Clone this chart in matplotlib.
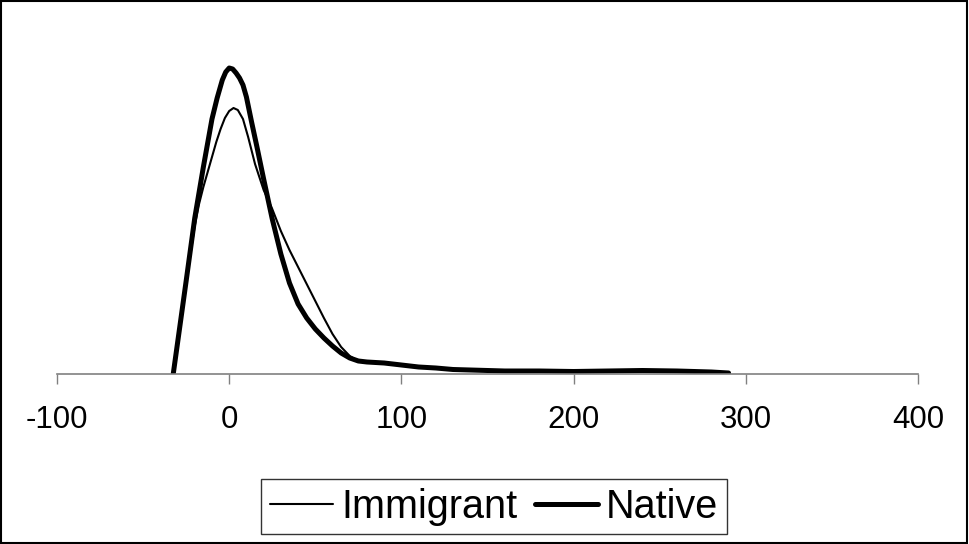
import matplotlib
matplotlib.use("Agg")
import matplotlib.pyplot as plt
from matplotlib.patches import Rectangle

# ---- data ----
native_x = [-32.5, -30, -25, -20, -15, -10, -7, -4, -2, 0, 2, 4, 6, 8, 10, 13, 16, 20, 25, 30,
            35, 40, 45, 50, 55, 60, 65, 70, 75, 80, 90, 100, 110, 120, 130, 140, 160, 180,
            200, 220, 240, 260, 280, 290]
native_y = [0, 31, 93, 156, 207, 255, 276, 294, 302, 306, 305, 301, 296, 289, 277, 252, 228, 195,
            155, 120, 91, 70, 56, 45, 36, 28, 21, 16, 13, 12, 11, 9, 7, 6, 4.5, 4, 3, 3,
            2.5, 3, 3.5, 3, 2, 1]

immigrant_x = [-32.5, -30, -25, -20, -17.5, -15, -12.5, -10, -7.5, -5, -2.5, 0, 2.5, 5, 8, 11,
               15, 20, 25, 30, 35, 40, 45, 50, 55, 60, 65, 70, 75, 80, 90, 100, 110, 120, 130,
               140, 160, 180, 200, 220, 240, 260, 280, 290]
immigrant_y = [0, 31, 92, 148, 170, 187, 202, 217, 232, 245, 256, 263, 266, 264, 255, 237,
               210, 184, 165, 143, 124, 107, 90, 73, 56, 40, 27, 18, 13, 11.5, 10.5, 8.5, 7,
               5.5, 4.5, 4, 3, 3, 2.5, 3, 3.5, 3, 2, 1]

xticks = [-100, 0, 100, 200, 300, 400]
series_labels = ["Immigrant", "Native"]

plt.rcParams['font.family'] = ['Liberation Sans', 'DejaVu Sans']

fig = plt.figure(figsize=(9.69, 5.44), dpi=100)
ax = fig.add_axes([57 / 969, 170 / 544, 861 / 969, 354 / 544])

ax.plot(immigrant_x, immigrant_y, color='black', lw=1.5, label=series_labels[0],
        solid_joinstyle='round', solid_capstyle='round')
ax.plot(native_x, native_y, color='black', lw=3.6, label=series_labels[1],
        solid_joinstyle='round', solid_capstyle='round')

ax.set_xlim(-100, 400)
ax.set_ylim(0, 354)
ax.set_xticks(xticks)
ax.set_xticklabels([str(t) for t in xticks])
ax.set_yticks([])
for s in ['left', 'top', 'right']:
    ax.spines[s].set_visible(False)
ax.spines['bottom'].set_color('#808080')
ax.spines['bottom'].set_linewidth(1.2)
ax.tick_params(axis='x', direction='out', length=7, width=1.0, color='#808080',
               labelsize=22.5, pad=15, labelcolor='black')
ax.patch.set_alpha(0)

leg = fig.legend(loc='center', bbox_to_anchor=(494 / 969, 37.5 / 544), ncol=2,
                 fontsize=28.5, frameon=True, fancybox=False, edgecolor='black',
                 handlelength=1.6, handletextpad=0.2, columnspacing=0.45,
                 borderpad=0.22, borderaxespad=0)
leg.get_frame().set_linewidth(1.0)

fig.patches.append(Rectangle((0.001, 0.002), 0.997, 0.996, transform=fig.transFigure,
                             fill=False, edgecolor='black', lw=1.5))

fig.savefig('out.png', dpi=100)
